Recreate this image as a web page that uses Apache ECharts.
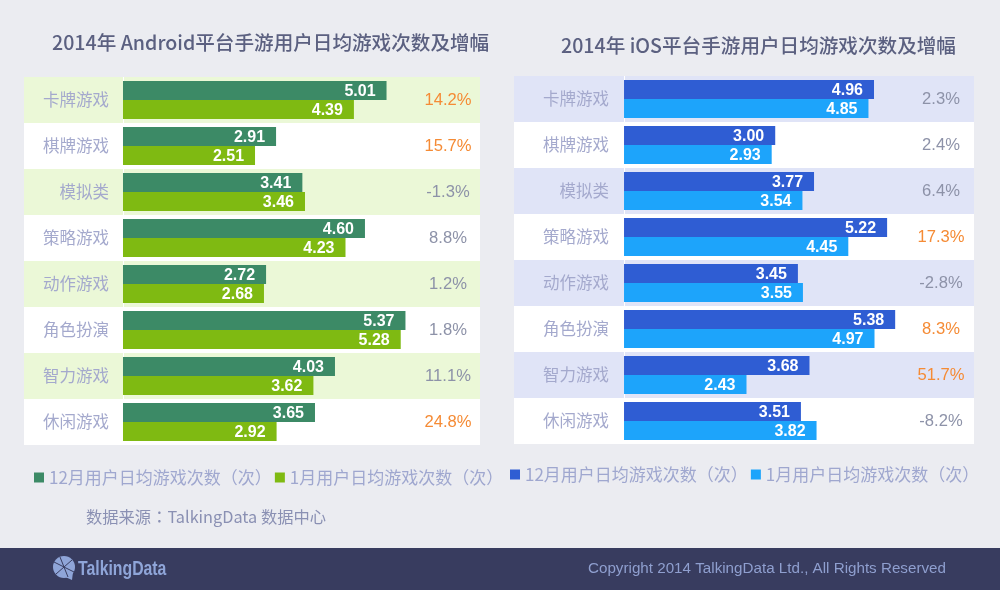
<!DOCTYPE html>
<html>
<head>
<meta charset="utf-8">
<title>2014年手游用户日均游戏次数及增幅</title>
<style>
    html, body { margin: 0; padding: 0; background: #ebecf1; }
    #chart { width: 1000px; height: 590px; }
</style>
<script src="https://cdn.jsdelivr.net/npm/echarts@6/dist/echarts.min.js"></script>
</head>
<body>
<div id="chart"></div>
<script>
    var categories = ['卡牌游戏', '棋牌游戏', '模拟类', '策略游戏', '动作游戏', '角色扮演', '智力游戏', '休闲游戏'];
    var decName = '12月用户日均游戏次数（次）';
    var janName = '1月用户日均游戏次数（次）';

    //Android
    var androidDec = [5.01, 2.91, 3.41, 4.60, 2.72, 5.37, 4.03, 3.65];
    var androidJan = [4.39, 2.51, 3.46, 4.23, 2.68, 5.28, 3.62, 2.92];
    var androidGrowth = ['14.2%', '15.7%', '-1.3%', '8.8%', '1.2%', '1.8%', '11.1%', '24.8%'];
    var androidHot = ['14.2%', '15.7%', '24.8%'];

    //iOS
    var iosDec = [4.96, 3.00, 3.77, 5.22, 3.45, 5.38, 3.68, 3.51];
    var iosJan = [4.85, 2.93, 3.54, 4.45, 3.55, 4.97, 2.43, 3.82];
    var iosGrowth = ['2.3%', '2.4%', '6.4%', '17.3%', '-2.8%', '8.3%', '51.7%', '-8.2%'];
    var iosHot = ['17.3%', '8.3%', '51.7%'];

    var CJK = '"Noto Sans CJK SC", sans-serif';
    var LATIN = '"Liberation Sans", Arial, sans-serif';

    var myChart = echarts.init(document.getElementById('chart'));

    //one panel: the value axis runs below zero so that the stripes reach under the category names
    function buildPanel(p, i) {
        var yBase = i * 2;
        return {
            title: {
                text: p.title, left: p.titleLeft, top: p.titleTop,
                textStyle: { fontFamily: CJK, fontSize: 19.6, fontWeight: 500, color: '#5b6080' }
            },
            legend: {
                left: p.legendLeft, top: p.legendTop, itemGap: 3, itemWidth: 10, itemHeight: 10,
                icon: 'rect',
                data: [p.key + decName, p.key + janName],
                formatter: function (name) { return name.replace(p.key, ''); },
                textStyle: { fontFamily: CJK, fontSize: 17, color: '#9fa7cf' }
            },
            grid: { left: p.left, top: p.top, width: p.width, height: 368, outerBoundsMode: 'none' },
            xAxis: { gridIndex: i, type: 'value', min: p.min, max: p.max, show: false },
            yAxis: [{
                gridIndex: i, type: 'category', inverse: true, data: categories,
                axisLine: { show: false, onZero: false },
                axisTick: { show: false },
                axisLabel: {
                    inside: true, margin: p.nameMargin, align: 'right',
                    fontFamily: CJK, fontSize: 16.5, color: '#a4a9cd'
                },
                splitArea: { show: true, areaStyle: { color: [p.stripe, '#ffffff'] } }
            }, {
                gridIndex: i, type: 'category', inverse: true, position: 'right', data: p.growth,
                axisLine: { show: false, onZero: false },
                axisTick: { show: false },
                axisLabel: {
                    inside: true, margin: p.growthMargin, align: 'center',
                    fontFamily: LATIN, fontSize: 16.6,
                    color: function (value) { return p.hot.indexOf(value) >= 0 ? '#f58b35' : '#8d92a8'; }
                }
            }],
            series: [
                barSeries(p.key + decName, p.dec, p.decColor, i, yBase, true),
                barSeries(p.key + janName, p.jan, p.janColor, i, yBase, false)
            ]
        };
    }

    function barSeries(name, values, color, i, yBase, baseline) {
        var s = {
            name: name, type: 'bar', data: values,
            xAxisIndex: i, yAxisIndex: yBase,
            barWidth: 19, barGap: 0,
            itemStyle: { color: color },
            label: {
                show: true, position: 'insideRight', distance: 11, offset: [0, 1],
                formatter: function (d) { return d.value.toFixed(2); },
                fontFamily: LATIN, fontSize: 16, fontWeight: 'bold', color: '#ffffff'
            }
        };
        //thin white line at zero, under the bars
        if (baseline) {
            s.markLine = {
                silent: true, symbol: 'none', label: { show: false }, z: 1,
                lineStyle: { color: '#ffffff', width: 1, type: 'solid' },
                data: [{ xAxis: 0 }]
            };
        }
        return s;
    }

    var panels = [
        buildPanel({
            key: 'Android ', title: '2014年 Android平台手游用户日均游戏次数及增幅',
            titleLeft: 47, titleTop: 28, legendLeft: 29, legendTop: 464,
            left: 24, top: 77, width: 456, min: -1.882, max: 6.787,
            stripe: '#ebf8d7', growth: androidGrowth, hot: androidHot, nameMargin: 85, growthMargin: 32,
            dec: androidDec, jan: androidJan, decColor: '#3c8a66', janColor: '#7fba12'
        }, 0),
        buildPanel({
            key: 'iOS ', title: '2014年 iOS平台手游用户日均游戏次数及增幅',
            titleLeft: 556, titleTop: 31, legendLeft: 505, legendTop: 461,
            left: 514, top: 76, width: 460, min: -2.183, max: 6.944,
            stripe: '#e0e4f7', growth: iosGrowth, hot: iosHot, nameMargin: 95, growthMargin: 33,
            dec: iosDec, jan: iosJan, decColor: '#2f5dd3', janColor: '#1da4fb'
        }, 1)
    ];

    //footer band, logo and source line
    var footer = [
        { type: 'rect', shape: { x: 0, y: 548, width: 1000, height: 42 }, style: { fill: '#383c5f' } },
        { type: 'circle', shape: { cx: 64, cy: 567, r: 11 }, style: { fill: '#8fa5d8' } },
        { type: 'polygon', shape: { points: [[63, 576], [73, 572], [72, 580]] }, style: { fill: '#8fa5d8' } },
        { type: 'line', shape: { x1: 54, y1: 562, x2: 74, y2: 572 }, style: { stroke: '#383c5f', lineWidth: 1 } },
        { type: 'line', shape: { x1: 60, y1: 557, x2: 68, y2: 577 }, style: { stroke: '#383c5f', lineWidth: 1 } },
        { type: 'line', shape: { x1: 72, y1: 560, x2: 56, y2: 574 }, style: { stroke: '#383c5f', lineWidth: 1 } },
        {
            type: 'text', x: 78, y: 569, scaleX: 0.79,
            style: {
                text: 'TalkingData', fill: '#8fa5d8', fontFamily: LATIN,
                fontSize: 20, fontWeight: 'bold', verticalAlign: 'middle'
            }
        },
        {
            type: 'text', x: 588, y: 569,
            style: {
                text: 'Copyright 2014 TalkingData Ltd., All Rights Reserved', fill: '#8f9fcf',
                fontFamily: LATIN, fontSize: 15.2, verticalAlign: 'middle'
            }
        },
        {
            type: 'text', x: 86, y: 517,
            style: {
                text: '数据来源：TalkingData 数据中心', fill: '#8a90b3',
                fontFamily: '"Noto Sans CJK TC", sans-serif', fontSize: 16.3, verticalAlign: 'middle'
            }
        }
    ];

    var option = {
        backgroundColor: '#ebecf1',
        animation: false,
        title: panels.map(function (p) { return p.title; }),
        legend: panels.map(function (p) { return p.legend; }),
        grid: panels.map(function (p) { return p.grid; }),
        xAxis: panels.map(function (p) { return p.xAxis; }),
        yAxis: panels[0].yAxis.concat(panels[1].yAxis),
        series: panels[0].series.concat(panels[1].series),
        graphic: footer
    };
    myChart.setOption(option);
</script>
</body>
</html>
